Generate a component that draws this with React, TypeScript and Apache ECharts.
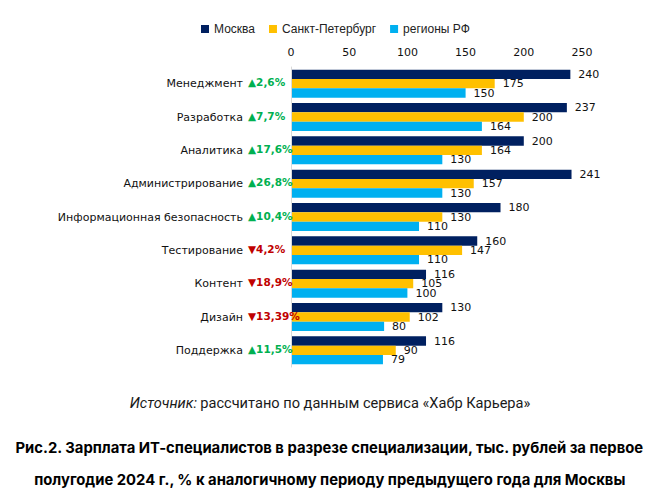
import React, { useEffect, useRef } from "react";
import * as echarts from "echarts";

const categories = [
  "Менеджмент",
  "Разработка",
  "Аналитика",
  "Администрирование",
  "Информационная безопасность",
  "Тестирование",
  "Контент",
  "Дизайн",
  "Поддержка",
];
const moscow = [240, 237, 200, 241, 180, 160, 116, 130, 116];
const spb = [175, 200, 164, 157, 130, 147, 105, 102, 90];
const regions = [150, 164, 130, 130, 110, 110, 100, 80, 79];
const moscowChange = [2.6, 7.7, 17.6, 26.8, 10.4, -4.2, -18.9, -13.39, 11.5];
const seriesNames = ["Москва", "Санкт-Петербург", "регионы РФ"];
const xTicks = [0, 50, 100, 150, 200, 250];

const sourceLabel = "Источник:";
const sourceText = "рассчитано по данным сервиса «Хабр Карьера»";
const titleLine1 = "Рис.2. Зарплата ИТ-специалистов в разрезе специализации, тыс. рублей за первое";
const titleLine2 = "полугодие 2024 г., % к аналогичному периоду предыдущего года для Москвы";

const colors = ["#002060", "#FFC000", "#00B0F0"];

export default function App() {
  const ref = useRef<HTMLDivElement>(null);
  useEffect(() => {
    if (!ref.current) return;
    const chart = echarts.init(ref.current, undefined, { renderer: "svg" });
    const fmtChange = (v: number) => {
      const s = Math.abs(v).toString().replace(".", ",") + "%";
      return v >= 0 ? `{up|▲${s}}` : `{down|▼${s}}`;
    };
    const mkSeries = (name: string, data: number[], color: string) => ({
      type: "bar",
      name,
      data,
      yAxisIndex: 0,
      barGap: "0%",
      barCategoryGap: "16%",
      itemStyle: { color },
      label: {
        show: true,
        position: "right",
        distance: 8,
        color: "#111",
        fontFamily: "DejaVu Sans",
        fontSize: 11,
      },
    });
    const pctStyle = {
      fontFamily: "DejaVu Sans",
      fontWeight: "bold",
      fontSize: 10.5,
      padding: [0, 0, 3, 0],
    };
    chart.setOption({
      animation: false,
      color: colors,
      legend: {
        top: 18,
        left: 196,
        itemWidth: 8,
        itemHeight: 8,
        itemGap: 14,
        icon: "rect",
        textStyle: { fontFamily: "Liberation Sans", fontSize: 12, color: "#222" },
        data: seriesNames,
      },
      grid: { left: 291, right: 78, top: 67, bottom: 133, containLabel: false },
      xAxis: {
        type: "value",
        position: "top",
        min: xTicks[0],
        max: xTicks[xTicks.length - 1],
        interval: 50,
        axisLine: { show: false },
        axisTick: { show: false },
        splitLine: { show: false },
        axisLabel: {
          margin: 9,
          color: "#111",
          fontFamily: "DejaVu Sans",
          fontSize: 11,
        },
      },
      yAxis: [
        {
          type: "category",
          inverse: true,
          position: "left",
          data: categories,
          z: 5,
          axisLine: { show: true, lineStyle: { color: "#d9d9d9", width: 1 } },
          axisTick: { show: false },
          axisLabel: {
            margin: 48,
            fontFamily: "DejaVu Sans",
            fontSize: 11,
            color: "#111",
          },
        },
        {
          type: "category",
          inverse: true,
          position: "left",
          offset: 0,
          data: categories,
          z: 5,
          axisLine: { show: false },
          axisTick: { show: false },
          axisLabel: {
            margin: 43,
            align: "left",
            formatter: (_v: string, idx: number) => fmtChange(moscowChange[idx]),
            rich: {
              up: { ...pctStyle, color: "#00B050" },
              down: { ...pctStyle, color: "#C00000" },
            },
          },
        },
      ],
      series: [
        mkSeries(seriesNames[0], moscow, colors[0]),
        mkSeries(seriesNames[1], spb, colors[1]),
        mkSeries(seriesNames[2], regions, colors[2]),
      ],
      graphic: [
        {
          type: "text",
          left: "center",
          top: 395,
          style: {
            text: "{i|" + sourceLabel + "} {r|" + sourceText + "}",
            rich: {
              i: { fontFamily: "Roboto", fontStyle: "italic", fontSize: 14.6, fill: "#1a1a1a" },
              r: { fontFamily: "Roboto", fontSize: 14.6, fill: "#1a1a1a" },
            },
          },
        },
        {
          type: "text",
          left: "center",
          top: 440,
          style: {
            text: titleLine1,
            fontFamily: "Inter",
            fontWeight: "bold",
            fontSize: 14.8,
            fill: "#000",
          },
        },
        {
          type: "text",
          left: "center",
          top: 472,
          style: {
            text: titleLine2,
            fontFamily: "Inter",
            fontWeight: "bold",
            fontSize: 14.8,
            fill: "#000",
          },
        },
      ],
    });
    return () => chart.dispose();
  }, []);
  return (
    <div
      ref={ref}
      style={{ position: "absolute", left: 0, top: 0, width: 660, height: 500, background: "#fff" }}
    />
  );
}
